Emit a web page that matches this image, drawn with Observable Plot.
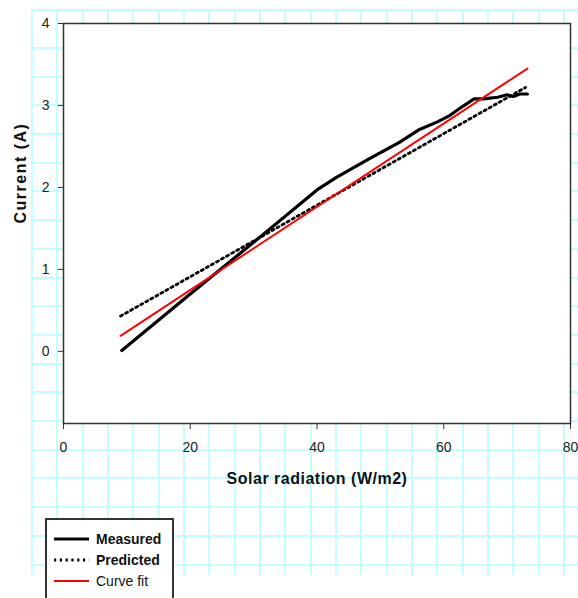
<!DOCTYPE html>
<html>
<head>
<meta charset="utf-8">
<script src="https://cdn.jsdelivr.net/npm/d3@7"></script>
<script src="https://cdn.jsdelivr.net/npm/@observablehq/plot@0.6"></script>
<style>
  html, body { margin: 0; padding: 0; background: #fff; overflow: hidden; }
  #page { position: relative; width: 578px; height: 598px; overflow: hidden; }
  #grid { position: absolute; left: 31px; top: 9px; width: 547px; height: 564px;
    border-top: 2px solid #c4ffff;
    background-image: repeating-linear-gradient(to right, #c4ffff 0 2px, transparent 2px 25.33px); }
  #gridh { position: absolute; left: 0; right: 0; top: 36px; bottom: 0;
    background-image: repeating-linear-gradient(to bottom, #c4ffff 0 2px, transparent 2px 28.7px); }
  #chart { position: absolute; left: 0; top: 0; }
  #chart svg { background: transparent; }
  #legend { position: absolute; left: 45px; top: 518px; width: 125px; height: 100px;
    border: 2px solid #333; background: #fff; }
</style>
</head>
<body>
<div id="page">
  <div id="grid"><div id="gridh"></div></div>
  <div id="chart"></div>
  <div id="legend"></div>
</div>
<script>
// Measured series
const measuredRadiation = [9.2, 20, 30, 40, 43, 48, 53, 56, 59, 61, 63, 64.8, 66.3, 68.5, 70, 71, 72, 73.2];
const measuredCurrent   = [0.01, 0.70, 1.33, 1.97, 2.12, 2.34, 2.55, 2.70, 2.80, 2.88, 2.99, 3.08, 3.08, 3.10, 3.13, 3.11, 3.14, 3.14];
// Predicted series
const predictedRadiation = [9.0, 72.9];
const predictedCurrent   = [0.43, 3.22];
// Curve fit series
const fitRadiation = [9.0, 73.2];
const fitCurrent   = [0.19, 3.45];
// Axes
const xTicks = [0, 20, 40, 60, 80];
const yTicks = [0, 1, 2, 3, 4];
const xLabel = "Solar radiation (W/m2)";
const yLabel = "Current (A)";
// Legend
const legendLabels = ["Measured", "Predicted", "Curve fit"];

const toRows = (xs, ys) => xs.map((x, i) => ({x, y: ys[i]}));
const measured = toRows(measuredRadiation, measuredCurrent);
const predicted = toRows(predictedRadiation, predictedCurrent);
const fit = toRows(fitRadiation, fitCurrent);

const sans = "'Liberation Sans', Arial, Helvetica, sans-serif";
const dots = "2.2,3.6";

const chart = Plot.plot({
  width: 578,
  height: 500,
  marginLeft: 63,
  marginRight: 8,
  marginTop: 23,
  marginBottom: 77,
  style: { background: "transparent", fontFamily: sans, fontSize: "14px", color: "#222", overflow: "visible" },
  x: { domain: [0, 80] },
  y: { domain: [-0.88, 4] },
  marks: [
    Plot.frame({ fill: "white" }),
    Plot.axisX({ ticks: xTicks, tickFormat: d3.format("d"), tickSize: 6, tickPadding: 13, label: null, stroke: "#333", fill: "#222", fontSize: 14 }),
    Plot.axisY({ ticks: yTicks, tickFormat: d3.format("d"), tickSize: 5, tickPadding: 9, label: null, stroke: "#333", fill: "#222", fontSize: 14 }),
    Plot.line(measured, { x: "x", y: "y", stroke: "black", strokeWidth: 3.2, strokeLinejoin: "round" }),
    Plot.line(predicted, { x: "x", y: "y", stroke: "black", strokeWidth: 2.8, strokeDasharray: dots }),
    Plot.line(fit, { x: "x", y: "y", stroke: "#ff0000", strokeWidth: 2 }),
    Plot.frame({ stroke: "#333", strokeWidth: 1.5 }),
    Plot.text([xLabel], { text: d => d, frameAnchor: "bottom", dy: 60, fontWeight: "bold", fontSize: 16, fontFamily: sans, fill: "#111" }),
    Plot.text([yLabel], { text: d => d, frameAnchor: "left", dx: -43, rotate: -90, fontWeight: "bold", fontSize: 16, fontFamily: sans, fill: "#111" })
  ]
});
document.getElementById("chart").appendChild(chart);
d3.select(chart).selectAll("text").filter(function() { return this.textContent === yLabel; }).style("letter-spacing", "1.5px");
d3.select(chart).selectAll("text").filter(function() { return this.textContent === xLabel; }).style("letter-spacing", "0.5px");

// Legend
const legendStyles = [
  { stroke: "black", width: 3.2, dash: null, weight: "bold" },
  { stroke: "black", width: 2.8, dash: dots, weight: "bold" },
  { stroke: "#ff0000", width: 2, dash: null, weight: "normal" }
];
const lsvg = d3.select("#legend").append("svg").attr("width", 125).attr("height", 100);
legendLabels.forEach((lab, i) => {
  const cy = 19 + i * 21;
  const s = legendStyles[i];
  lsvg.append("line").attr("x1", 7).attr("x2", 42).attr("y1", cy).attr("y2", cy)
    .attr("stroke", s.stroke).attr("stroke-width", s.width).attr("stroke-dasharray", s.dash);
  lsvg.append("text").attr("x", 49).attr("y", cy).attr("dy", "0.35em")
    .attr("font-family", sans).attr("font-size", 14).attr("font-weight", s.weight)
    .attr("fill", "#111").text(lab);
});
</script>
</body>
</html>
